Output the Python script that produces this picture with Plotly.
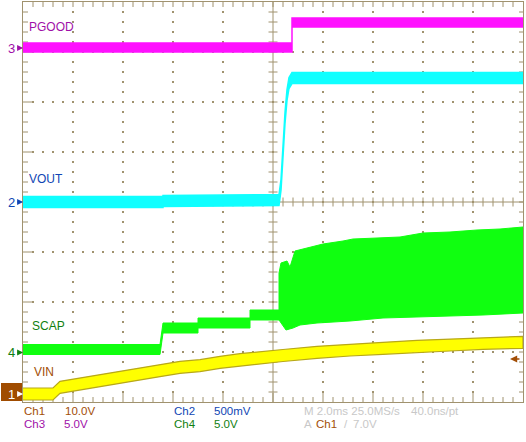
import plotly.graph_objects as go

# ---------------- data (scope units) ----------------
# time in ms (2 ms/div, trigger at centre); voltages in V
# channel settings: volts/div and ground marker position (divisions from bottom)
CH1_SCALE, CH1_GND = 10.0, 0.16   # VIN
CH2_SCALE, CH2_GND = 0.5, 4.0     # VOUT
CH3_SCALE, CH3_GND = 5.0, 7.08    # PGOOD
CH4_SCALE, CH4_GND = 5.0, 0.99    # SCAP

pgood_t = [-10.0, 0.76, 0.76, 10.0]
pgood_v = [0.05, 0.05, 2.55, 2.55]

vout_t = [-10.0, -4.4, -4.4, 0.24, 0.32, 0.40, 0.48, 0.56, 0.64, 0.76, 10.0]
vout_v = [0.0, 0.0, 0.01, 0.02, 0.17, 0.52, 0.84, 1.07, 1.19, 1.24, 1.24]

scap_t = [-10.0, -4.52, -4.4, -3.0, -3.0, -0.92, -0.92, 0.24]
scap_v = [0.3, 0.3, 2.45, 2.45, 2.95, 2.95, 3.75, 3.75]
scap_hi_t = [0.24, 0.24, 0.32, 0.56, 0.68, 0.88, 1.2, 1.56, 2.0, 2.8, 3.2, 4.16, 5.08, 6.0, 7.08, 8.16, 9.08, 10.0]
scap_hi_v = [4.25, 7.95, 8.95, 9.15, 8.55, 10.15, 10.35, 10.55, 10.85, 11.15, 11.35, 11.45, 11.55, 11.95, 12.05, 12.25, 12.35, 12.55]
scap_lo_t = [0.24, 0.52, 0.8, 1.08, 1.76, 3.08, 4.4, 5.76, 7.08, 8.4, 10.0]
scap_lo_v = [3.25, 2.25, 2.45, 2.75, 2.95, 3.15, 3.45, 3.55, 3.65, 3.75, 3.95]

vin_t = [-10.0, -8.8, -8.52, -7.72, -6.92, -6.12, -5.32, -4.52, -3.72, -2.92, -2.12,
         -1.32, -0.52, 0.4, 1.76, 3.08, 4.4, 5.76, 7.08, 8.4, 10.0]
vin_v = [0.0, 0.0, 1.34, 2.0, 2.66, 3.34, 4.0, 4.66, 5.34, 5.66, 6.34,
         6.86, 7.2, 7.7, 8.34, 8.8, 9.14, 9.54, 9.8, 10.14, 10.34]

TRIG_LEVEL = 7.0  # V on Ch1

# ---------------- layout constants ----------------
W, H = 526, 442
ML, MR, MT, MB = 23, 3, 2, 40
PW, PH = W - ML - MR, H - MT - MB
T0, T1 = -10.0, 10.0
NDIV_X, NDIV_Y = 10, 8
PX_PER_MS = PW / (T1 - T0)
PX_PER_DIV = PH / NDIV_Y

GRID = "#a0926e"
C_BROWN = "#a24e06"
C_MAG = "#a010a8"
C_BLUE = "#1046b4"
C_GREEN = "#108010"
C_GRAY = "#c8c8c8"
FONT = "Liberation Sans Narrow, Arial Narrow, Liberation Sans, Arial, sans-serif"


def to_div(vals, scale, gnd):
    return [gnd + v / scale for v in vals]


def band(t, v, scale, gnd, half_px):
    h = half_px / PX_PER_DIV
    d = to_div(v, scale, gnd)
    up = [x + h for x in d]
    lo = [x - h for x in d]
    return list(t) + list(t)[::-1], up + lo[::-1]


fig = go.Figure()

# ---------------- graticule ----------------
minor_t = [T0 + i * 0.4 for i in range(1, 50)]
minor_y = [i * 0.2 for i in range(1, 40)]
major_t = [T0 + i * 2 for i in range(1, NDIV_X) if i != 5]
major_y = [i for i in range(1, NDIV_Y) if i != 4]

dx, dy = [], []
for mt in major_t:
    for my in minor_y:
        dx.append(mt); dy.append(my)
for my in major_y:
    for mt in minor_t:
        dx.append(mt); dy.append(my)
fig.add_trace(go.Scatter(x=dx, y=dy, mode="markers",
                         marker=dict(symbol="square", size=2, color=GRID, line=dict(width=0)),
                         hoverinfo="skip", showlegend=False))

tx, ty = [], []
ms_per_px = 1 / PX_PER_MS
div_per_px = 1 / PX_PER_DIV
# centre cross
tx += [0, 0, None, T0, T1, None]
ty += [0, NDIV_Y, None, 4, 4, None]
for my in minor_y:
    tx += [-4.5 * ms_per_px, 4.5 * ms_per_px, None]
    ty += [my, my, None]
for mt in minor_t:
    tx += [mt, mt, None]
    ty += [4 - 4.5 * div_per_px, 4 + 4.5 * div_per_px, None]
# border ticks
for i, mt in enumerate(minor_t):
    major = (i + 1) % 5 == 0
    L = (9 if major else 5) * div_per_px
    tx += [mt, mt, None, mt, mt, None]
    ty += [0, L, None, NDIV_Y, NDIV_Y - 5 * div_per_px, None]
for i, my in enumerate(minor_y):
    major = (i + 1) % 5 == 0
    L = (9 if major else 5) * ms_per_px
    tx += [T0, T0 + L, None, T1, T1 - 4 * ms_per_px, None]
    ty += [my, my, None, my, my, None]
fig.add_trace(go.Scatter(x=tx, y=ty, mode="lines", line=dict(color=GRID, width=1),
                         hoverinfo="skip", showlegend=False))

# ---------------- waveforms ----------------
# SCAP (Ch4)
h4 = 5 / PX_PER_DIV
sd = to_div(scap_v, CH4_SCALE, CH4_GND)
up_x = list(scap_t) + list(scap_hi_t)
up_y = [y + h4 for y in sd] + to_div(scap_hi_v, CH4_SCALE, CH4_GND)
lo_x = list(scap_t) + list(scap_lo_t)
lo_y = [y - h4 for y in sd] + to_div(scap_lo_v, CH4_SCALE, CH4_GND)
fig.add_trace(go.Scatter(x=up_x + lo_x[::-1], y=up_y + lo_y[::-1], mode="lines",
                         fill="toself", fillcolor="#10ff10",
                         line=dict(color="#10ff10", width=1),
                         hoverinfo="skip", showlegend=False))

# VIN (Ch1)
x1, y1 = band(vin_t, vin_v, CH1_SCALE, CH1_GND, 6)
fig.add_trace(go.Scatter(x=x1, y=y1, mode="lines", fill="toself", fillcolor="#ffff00",
                         line=dict(color="#b8a818", width=1.2),
                         hoverinfo="skip", showlegend=False))

# VOUT (Ch2)
x2, y2 = band(vout_t, vout_v, CH2_SCALE, CH2_GND, 5.5)
fig.add_trace(go.Scatter(x=x2, y=y2, mode="lines", fill="toself", fillcolor="#10ffff",
                         line=dict(color="#10ffff", width=1.5),
                         hoverinfo="skip", showlegend=False))

# PGOOD (Ch3)
x3, y3 = band(pgood_t, pgood_v, CH3_SCALE, CH3_GND, 4.5)
fig.add_trace(go.Scatter(x=x3, y=y3, mode="lines", fill="toself", fillcolor="#ff10ff",
                         line=dict(color="#ff10ff", width=1.5),
                         hoverinfo="skip", showlegend=False))


# ---------------- text ----------------
def px2t(px):
    return T0 + (px - ML) / PX_PER_MS


def py2d(py):
    return NDIV_Y - (py - MT) / PX_PER_DIV


ann = []
for txt, px, py, col in [("PGOOD", 28, 27, C_MAG), ("VOUT", 28, 179, C_BLUE),
                         ("SCAP", 31, 326, C_GREEN), ("VIN", 33, 372, C_BROWN)]:
    ann.append(dict(x=px2t(px), y=py2d(py), xref="x", yref="y", text=txt, showarrow=False,
                    xanchor="left", yanchor="middle", borderpad=0,
                    font=dict(family=FONT, size=12, color=col)))


def pfx(px):
    return (px - ML) / PW


def pfy(py):
    return (MT + PH - py) / PH


for txt, px, py, col in [("Ch1", 23, 411, C_BROWN), ("10.0V", 64, 411, C_BROWN),
                         ("Ch3", 23, 424, C_MAG), ("5.0V", 63, 424, C_MAG),
                         ("Ch2", 173, 411, C_BLUE), ("500mV", 213, 411, C_BLUE),
                         ("Ch4", 173, 424, C_GREEN), ("5.0V", 213, 424, C_GREEN),
                         ("M 2.0ms 25.0MS/s", 303, 411, C_GRAY), ("40.0ns/pt", 410, 411, C_GRAY),
                         ("A", 303, 424, C_GRAY), ("Ch1", 315, 424, C_BROWN),
                         ("/", 343, 424, C_GRAY), ("7.0V", 352, 424, C_GRAY)]:
    ann.append(dict(x=pfx(px), y=pfy(py), xref="paper", yref="paper", text=txt, showarrow=False,
                    xanchor="left", yanchor="middle", borderpad=0,
                    font=dict(family=FONT, size=11.5, color=col)))

# channel ground markers
for num, gnd, col in [("3", CH3_GND, C_MAG), ("2", CH2_GND, C_BLUE), ("4", CH4_GND, C_GREEN),
                      ("1", CH1_GND, "#ffffff")]:
    ann.append(dict(x=pfx(11), y=gnd, xref="paper", yref="y", text=num, showarrow=False,
                    xanchor="center", yanchor="middle", borderpad=0,
                    font=dict(family=FONT, size=13, color=col)))
    ann.append(dict(x=pfx(23), y=gnd, xref="paper", yref="y", text="", showarrow=True,
                    ax=-7, ay=0, arrowhead=2, arrowsize=0.9, arrowwidth=1.3, arrowcolor=col,
                    standoff=0, startstandoff=0))

# trigger level marker (right)
ann.append(dict(x=px2t(510), y=CH1_GND + TRIG_LEVEL / CH1_SCALE, xref="x", yref="y", text="",
                showarrow=True, ax=11, ay=0, arrowhead=2, arrowsize=0.9, arrowwidth=1.6,
                arrowcolor=C_BROWN, standoff=0))

shapes = [dict(type="rect", xref="paper", yref="y", x0=pfx(1), x1=pfx(23),
               y0=py2d(401), y1=py2d(383), fillcolor="#a04c00", line=dict(width=0), layer="below")]

fig.update_layout(
    width=W, height=H,
    margin=dict(l=ML, r=MR, t=MT, b=MB, pad=0),
    paper_bgcolor="white", plot_bgcolor="white",
    showlegend=False,
    xaxis=dict(range=[T0, T1], showgrid=False, zeroline=False, showticklabels=False,
               ticks="", showline=True, mirror=True, linecolor=GRID, linewidth=1, fixedrange=True),
    yaxis=dict(range=[0, NDIV_Y], showgrid=False, zeroline=False, showticklabels=False,
               ticks="", showline=True, mirror=True, linecolor=GRID, linewidth=1, fixedrange=True),
    annotations=ann,
    shapes=shapes,
)

fig.write_html("out.html", config={"displayModeBar": False},
               post_script="document.body.style.margin='0';document.body.style.padding='0';")
